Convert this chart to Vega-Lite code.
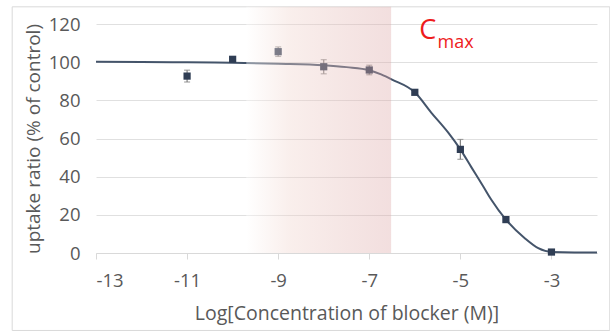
{
  "$schema": "https://vega.github.io/schema/vega-lite/v6.json",
  "width": 501,
  "height": 229,
  "autosize": {"type": "none"},
  "padding": {"left": 96, "top": 24, "right": 13, "bottom": 79},
  "background": "white",
  "config": {
    "view": {"stroke": null},
    "font": "Open Sans",
    "axis": {"labelFont": "Open Sans", "titleFont": "Open Sans", "labelColor": "#595959", "titleColor": "#595959", "labelFontSize": 18.5, "titleFontSize": 19, "titleFontWeight": "normal", "gridColor": "#e0e0e0", "domainColor": "#d9d9d9", "tickColor": "#d9d9d9"}
  },
  "datasets": {
    "points": [
      {"x": -11, "y": 92.7},
      {"x": -10, "y": 101.5},
      {"x": -9, "y": 105.5},
      {"x": -8, "y": 97.6},
      {"x": -7, "y": 95.9},
      {"x": -6, "y": 84.2},
      {"x": -5, "y": 54.3},
      {"x": -4, "y": 17.5},
      {"x": -3, "y": 0.5}
    ],
    "errs": [
      {"x": -11, "y": 89.6, "y2": 95.8},
      {"x": -10, "y": 100.5, "y2": 102.5},
      {"x": -9, "y": 103.0, "y2": 108.0},
      {"x": -8, "y": 93.9, "y2": 101.3},
      {"x": -7, "y": 93.4, "y2": 98.4},
      {"x": -5, "y": 49.1, "y2": 59.5}
    ],
    "curve": [
      {"x": -13, "y": 100.2},
      {"x": -12, "y": 100.1},
      {"x": -11, "y": 99.9},
      {"x": -10, "y": 99.7},
      {"x": -9, "y": 99.2},
      {"x": -8, "y": 98.4},
      {"x": -7.5, "y": 97.4},
      {"x": -7, "y": 95.8},
      {"x": -6.74, "y": 93.6},
      {"x": -6.5, "y": 90.9},
      {"x": -6, "y": 84.2},
      {"x": -5.64, "y": 73.6},
      {"x": -5.27, "y": 63.2},
      {"x": -5, "y": 54.3},
      {"x": -4.76, "y": 45.0},
      {"x": -4.5, "y": 35.0},
      {"x": -4.32, "y": 27.9},
      {"x": -4, "y": 17.5},
      {"x": -3.58, "y": 7.6},
      {"x": -3.29, "y": 2.5},
      {"x": -3, "y": 0.5},
      {"x": -2.5, "y": 0.3},
      {"x": -2, "y": 0.3}
    ],
    "band": [{"x": -9.7, "x2": -6.52, "y": 0, "y2": 129}],
    "frame": [{"x": -14.84, "x2": -1.72, "y": -40.6, "y2": 129}],
    "labels": [
      {"x": -5.9, "y": 112.2, "t": "C", "size": "big"},
      {"x": -5.5, "y": 107.4, "t": "max", "size": "small"}
    ]
  },
  "encoding": {
    "x": {"field": "x", "type": "quantitative", "scale": {"domain": [-13, -2], "nice": false, "zero": false},
      "axis": {"values": [-13, -11, -9, -7, -5, -3], "grid": false, "tickSize": 6, "labelPadding": 12, "labelExpr": "'' + datum.value", "title": "Log[Concentration of blocker (M)]", "titleFontSize": 19.5, "titlePadding": 15}},
    "y": {"field": "y", "type": "quantitative", "scale": {"domain": [0, 120], "nice": false},
      "axis": {"values": [0, 20, 40, 60, 80, 100, 120], "domain": false, "ticks": false, "labelPadding": 16, "title": "uptake ratio (% of control)", "titlePadding": 5}}
  },
  "layer": [
    {
      "data": {"name": "frame"},
      "mark": {"type": "rect", "fill": null, "stroke": "#d9d9d9", "strokeWidth": 1, "clip": false},
      "encoding": {"x2": {"field": "x2"}, "y2": {"field": "y2"}}
    },
    {
      "data": {"name": "curve"},
      "mark": {"type": "line", "color": "#44546a", "strokeWidth": 2, "interpolate": "monotone"}
    },
    {
      "data": {"name": "errs"},
      "mark": {"type": "errorbar", "color": "#808080", "thickness": 1.2, "ticks": {"size": 6, "color": "#808080"}},
      "encoding": {"y2": {"field": "y2"}}
    },
    {
      "data": {"name": "points"},
      "mark": {"type": "square", "size": 52, "color": "#2f3d54", "opacity": 1, "filled": true}
    },
    {
      "data": {"name": "band"},
      "mark": {
        "type": "rect",
        "clip": false,
        "fill": {
          "gradient": "linear", "x1": 0, "y1": 0, "x2": 1, "y2": 0,
          "stops": [
            {"offset": 0, "color": "rgba(255,255,255,0.4)"},
            {"offset": 0.3, "color": "rgba(240,212,205,0.38)"},
            {"offset": 1, "color": "rgba(220,165,165,0.36)"}
          ]
        }
      },
      "encoding": {"x2": {"field": "x2"}, "y2": {"field": "y2"}}
    },
    {
      "data": {"name": "labels"},
      "transform": [{"filter": "datum.size == 'big'"}],
      "mark": {"type": "text", "align": "left", "baseline": "alphabetic", "fontSize": 27, "color": "#ee1c1c", "font": "Open Sans", "clip": false},
      "encoding": {"text": {"field": "t"}}
    },
    {
      "data": {"name": "labels"},
      "transform": [{"filter": "datum.size == 'small'"}],
      "mark": {"type": "text", "align": "left", "baseline": "alphabetic", "fontSize": 18, "color": "#ee1c1c", "font": "Open Sans", "clip": false},
      "encoding": {"text": {"field": "t"}}
    }
  ]
}
